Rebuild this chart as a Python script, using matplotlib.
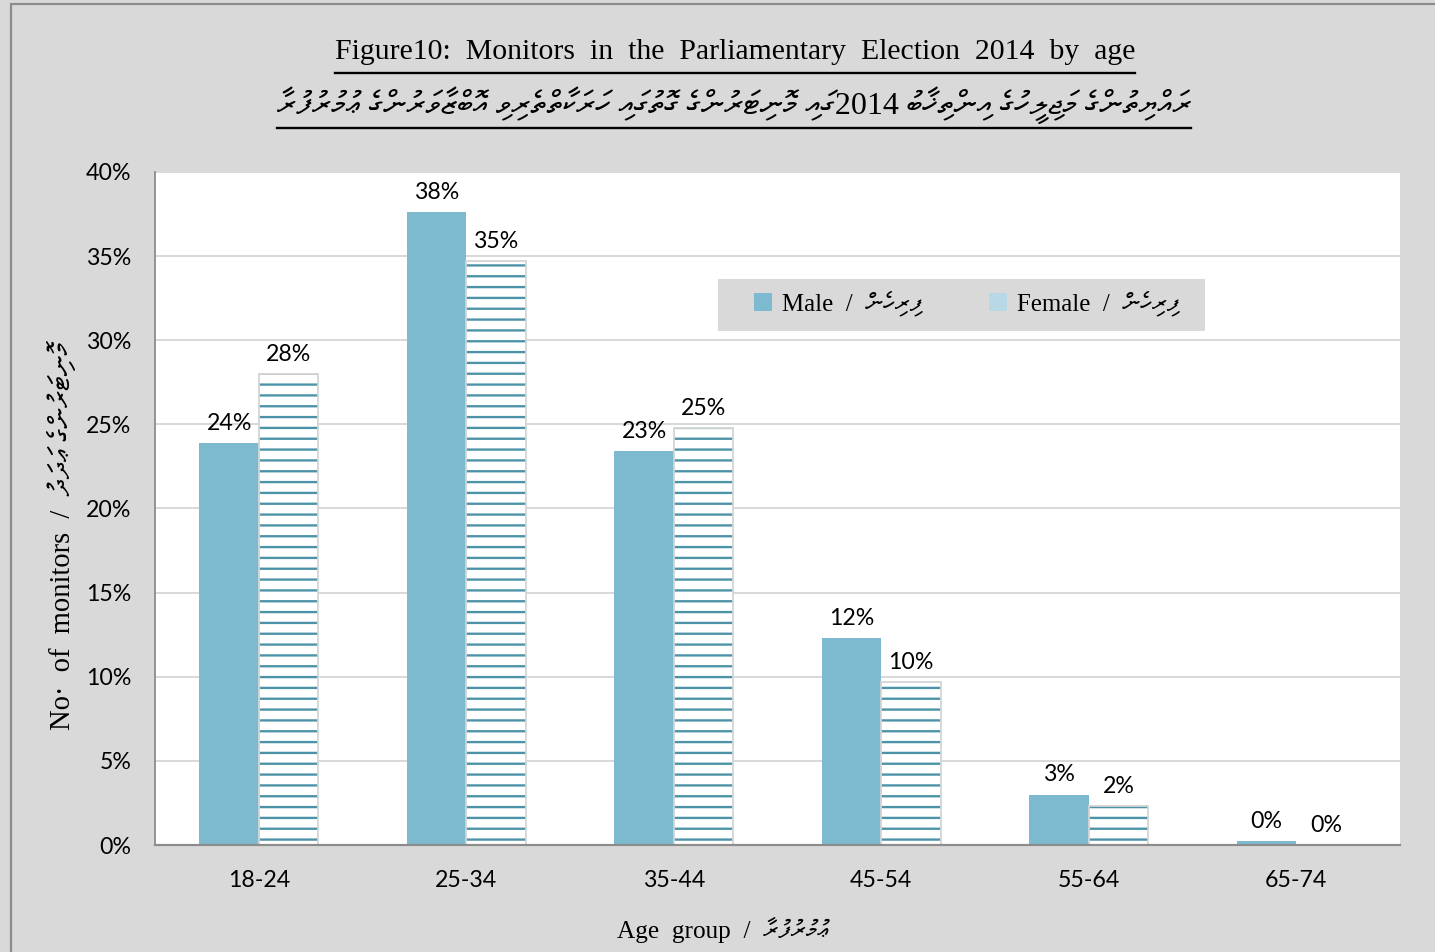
import re
import matplotlib
matplotlib.use("Agg")
import matplotlib.pyplot as plt
from matplotlib.patches import Patch, Rectangle
from matplotlib.lines import Line2D
import numpy as np

groups = ["18-24", "25-34", "35-44", "45-54", "55-64", "65-74"]
male = [23.9, 37.6, 23.4, 12.3, 3.0, 0.25]
female = [28.0, 34.7, 24.8, 9.7, 2.3, 0.0]
yticks = [0, 5, 10, 15, 20, 25, 30, 35, 40]

title_en = "Figure10:  Monitors  in  the  Parliamentary  Election  2014  by  age"
title_dv = ("ރައްޔިތުންގެ މަޖިލީހުގެ އިންތިޚާބު 2014ގައި މޮނިޓަރުންގެ "
            "ގޮތުގައި ހަރަކާތްތެރިވި އޮބްޒާވަރުންގެ ޢުމުރުފުރާ")
male_dv = "ފިރިހެން"
female_dv = "ފިރިހެން"
xlabel_dv = "ޢުމުރުފުރާ"
ylabel_dv = "މޮނިޓަރުންގެ ޢަދަދު"

MALE_C = "#7db9cf"
HATCH_C = "#4d93a8"
BG = "#d9d9d9"
SERIF = ["Liberation Serif", "FreeSerif"]
SANS = ["Lato", "DejaVu Sans"]


def rtl(s):
    # no bidi in matplotlib: reverse the characters, keep digit runs in order
    parts = re.findall(r"[0-9]+|.", s)
    return "".join(parts[::-1])


DPI = 130
fig = plt.figure(figsize=(1435 / DPI, 952 / DPI), dpi=DPI, facecolor=BG)
ax = fig.add_axes([155 / 1435, 1 - 845 / 952, 1245 / 1435, 673 / 952])
ax.set_facecolor("white")

plt.rcParams["hatch.linewidth"] = 1.3

x = np.arange(len(groups))
w = 0.286
ax.bar(x - w / 2, male, w, color=MALE_C, linewidth=0, zorder=3)
ax.bar(x + w / 2, female, w, facecolor="white", edgecolor=HATCH_C,
       hatch="--", linewidth=0, zorder=3)
ax.bar(x + w / 2, female, w, fill=False, edgecolor="#d4d4d4",
       linewidth=1.0, zorder=4)

for xs, vals in [(x - w / 2, male), (x + w / 2, female)]:
    for xi, v in zip(xs, vals):
        ax.annotate(f"{v:.0f}%", (xi, v), xytext=(0, 5), textcoords="offset points",
                    ha="center", va="bottom", fontsize=12.8, family=SANS)

ax.set_xlim(-0.5, len(groups) - 0.5)
ax.set_ylim(0, 40)
ax.set_yticks(yticks)
ax.set_yticklabels([f"{t}%" for t in yticks], family=SANS, fontsize=12.8)
ax.set_xticks(x)
ax.set_xticklabels(groups, family=SANS, fontsize=12.8)
ax.tick_params(axis="y", length=0, pad=13)
ax.tick_params(axis="x", length=0, pad=14)
ax.grid(axis="y", color=BG, linewidth=1.1, zorder=0)
ax.set_axisbelow(True)
for s in ["top", "right"]:
    ax.spines[s].set_visible(False)
ax.spines["left"].set_color("#8c8c8c")
ax.spines["left"].set_linewidth(1.0)
ax.spines["bottom"].set_color("#8c8c8c")
ax.spines["bottom"].set_linewidth(1.2)
ax.spines["bottom"].set_zorder(5)

# legend box drawn separately so the padding can differ left/right
ax.add_patch(Rectangle(((718 - 155) / 1245, (845 - 331) / 673), 487 / 1245, 52 / 673,
                       transform=ax.transAxes, facecolor=BG, edgecolor="none",
                       zorder=6))
handles = [Patch(facecolor=MALE_C, edgecolor="none"),
           Patch(facecolor="#b7d8e4", edgecolor="none")]
labels = ["Male  /  " + rtl(male_dv), "Female  /  " + rtl(female_dv)]
leg = ax.legend(handles, labels, loc="center", bbox_to_anchor=(0.652, 0.805),
                ncol=2, frameon=False, borderpad=0.3,
                columnspacing=2.7, handlelength=0.72, handleheight=0.72,
                handletextpad=0.4, prop={"family": SERIF, "size": 13.8})
leg.set_zorder(7)

t1 = fig.text(0.5 * (342 + 1128) / 1435, 1 - 52 / 952, title_en, ha="center",
              va="center", fontsize=16.5, family=SERIF)
t2 = fig.text(0.5 * (272 + 1196) / 1435, 1 - 105 / 952, rtl(title_dv), ha="center",
              va="center", fontsize=17.8, family=SERIF)

fig.text(723 / 1435, 1 - 930 / 952, "Age  group  /  " + rtl(xlabel_dv),
         ha="center", va="center", fontsize=14, family=SERIF)
fig.text(62 / 1435, 1 - 536 / 952, "No·  of  monitors  /  " + rtl(ylabel_dv),
         ha="center", va="center", rotation=90, fontsize=15.8, family=SERIF)

fig.patches.append(Rectangle((11 / 1435, -0.1), 2, 1 - 4 / 952 + 0.1,
                             transform=fig.transFigure, facecolor="none",
                             edgecolor="#8c8c8c", linewidth=1.2))

# underline both titles
fig.canvas.draw()
r = fig.canvas.get_renderer()
inv = fig.transFigure.inverted()
for t, ypx in [(t1, 73), (t2, 128)]:
    bb = t.get_window_extent(r)
    (x0, _), (x1, _) = inv.transform([(bb.x0, 0), (bb.x1, 0)])
    yy = 1 - ypx / 952
    fig.lines.append(Line2D([x0, x1], [yy, yy], transform=fig.transFigure,
                            color="black", linewidth=1.3))

fig.savefig("out.png", dpi=DPI, facecolor=BG)
